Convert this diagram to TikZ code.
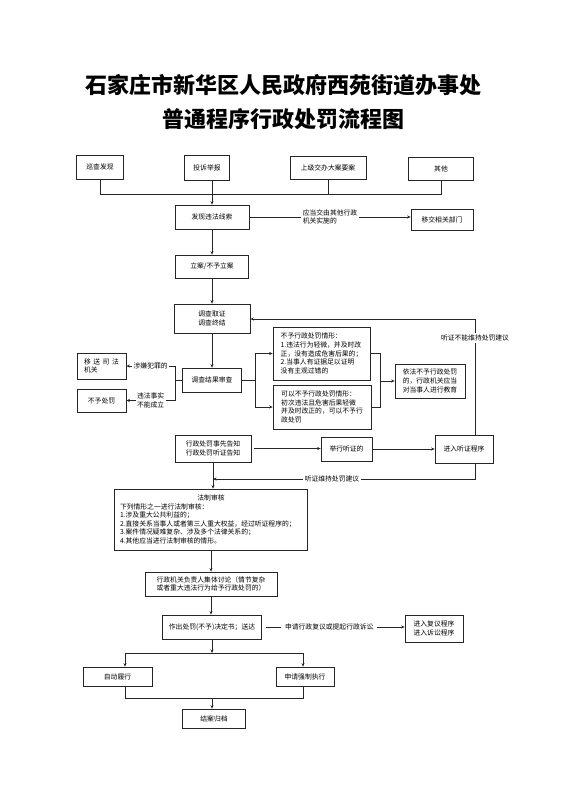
\documentclass[tikz,border=0pt]{standalone}
\usepackage{fontspec}
\newfontfamily\cjk{Noto Sans CJK SC}
\usetikzlibrary{arrows.meta}
\begin{document}
\begin{tikzpicture}[x=1pt,y=-1pt,
  box/.style={draw=black!85, line width=0.7pt, font=\cjk\fontsize{6.8}{8.6}\selectfont, align=center, inner sep=1pt},
  ln/.style={draw=black!85, line width=0.7pt},
  arr/.style={ln, -{Stealth[length=3.5pt,width=3pt]}},
  lbl/.style={font=\cjk\fontsize{6.8}{8.6}\selectfont, fill=white, inner sep=1.5pt, align=center},
  ttl/.style={font=\cjk\bfseries\fontsize{22}{26}\selectfont}]
\useasboundingbox[fill=white] (0,0) rectangle (566,800);

% title
\node[ttl] (t1) at (283,85) {石家庄市新华区人民政府西苑街道办事处};
\node[ttl] (t2) at (283,119) {普通程序行政处罚流程图};

% nodes
\node[box, minimum width=47, minimum height=24] (b1) at (100,167) {巡查发现};
\node[box, minimum width=45, minimum height=25] (b2) at (207,167.5) {投诉举报};
\node[box, minimum width=76, minimum height=23] (b3) at (328,167.5) {上级交办大案要案};
\node[box, minimum width=65, minimum height=23] (b4) at (441,168.5) {其他};
\node[box, minimum width=74, minimum height=24] (c1) at (212,217) {发现违法线索};
\node[box, minimum width=62, minimum height=21] (yj) at (442,220) {移交相关部门};
\node[box, minimum width=73, minimum height=23] (la) at (212,266.5) {立案/不予立案};
\node[box, minimum width=76, minimum height=29] (dc) at (212,318.5) {调查取证\\调查终结};
\node[box, minimum width=59, minimum height=24] (jg) at (212,380) {调查结果审查};
\node[box, minimum width=49, minimum height=26, align=left] (sf) at (101.5,366) {移\hspace{2.5pt}送\hspace{2.5pt}司\hspace{2.5pt}法\\机关};
\node[box, minimum width=49, minimum height=23] (bc) at (101.5,400.5) {不予处罚};
\node[box, minimum width=97, minimum height=53, align=left] (A) at (321.5,353.5) {不予行政处罚情形：\\1.违法行为轻微，并及时改\\正，没有造成危害后果的；\\2.当事人有证据足以证明\\没有主观过错的};
\node[box, minimum width=98, minimum height=44, align=left] (B) at (322,407) {可以不予行政处罚情形：\\初次违法且危害后果轻微\\并及时改正的，可以不予行\\政处罚};
\node[box, minimum width=70, minimum height=34] (C) at (430,381) {依法不予行政处罚\\的，行政机关应当\\对当事人进行教育};
\node[box, minimum width=76, minimum height=27] (gz) at (213,448.5) {行政处罚事先告知\\行政处罚听证告知};
\node[box, minimum width=51, minimum height=24] (jx) at (346.5,449) {举行听证的};
\node[box, minimum width=58, minimum height=28] (jr) at (464,449) {进入听证程序};
\node[box, text width=182, inner xsep=5.5pt, minimum height=61, align=left] (fz) at (211,519.5) {\makebox[182pt]{法制审核}\\下列情形之一进行法制审核：\\1.涉及重大公共利益的；\\2.直接关系当事人或者第三人重大权益，经过听证程序的；\\3.案件情况疑难复杂、涉及多个法律关系的；\\4.其他应当进行法制审核的情形。};
\node[box, minimum width=132, minimum height=24] (tl) at (211,584) {行政机关负责人集体讨论（情节复杂\\或者重大违法行为给予行政处罚的）};
\node[box, minimum width=99, minimum height=24] (zc) at (212,627) {作出处罚(不予)决定书；送达};
\node[box, minimum width=58, minimum height=27] (fy) at (434,628.5) {进入复议程序\\进入诉讼程序};
\node[box, minimum width=69, minimum height=19] (zd) at (117.5,676.5) {自动履行};
\node[box, minimum width=58, minimum height=19] (qz) at (305,676.5) {申请强制执行};
\node[box, minimum width=63, minimum height=19] (ja) at (214,718.5) {结案归档};

% coordinates
\coordinate (h1) at (0,194);
\coordinate (lb) at (175,0);
\coordinate (rb) at (255,0);
\coordinate (rb2) at (380,0);
\coordinate (fb) at (475,319);
\coordinate (fb2) at (475,479);
\coordinate (h2) at (0,653);
\coordinate (h3) at (0,698);
\coordinate (xL) at (125,0);
\coordinate (xR) at (303,0);

% top collection
\draw[ln] (b1.south) -- (b1.south |- h1) -- (b4.south |- h1) -- (b4.south);
\draw[ln] (b3.south) -- (b3.south |- h1);
\draw[arr] (b2.south -| c1.north) -- (c1.north);
\draw[arr] (c1.east) -- node[lbl, align=left, pos=0.5]{应当交由其他行政\\机关实施的} (c1.east -| yj.west);
\draw[arr] (c1.south) -- (la.north);
\draw[arr] (la.south) -- (dc.north);
\draw[arr] (dc.south) -- (jg.north);

% left bracket
\draw[ln] (jg.west) -- (jg.west -| lb);
\draw[ln] (lb |- sf.east) -- (lb |- bc.east);
\draw[arr] (lb |- sf.east) -- node[lbl]{涉嫌犯罪的} (sf.east);
\draw[arr] (lb |- bc.east) -- node[lbl]{违法事实\\不能成立} (bc.east);

% right bracket
\draw[ln] (jg.east) -- (jg.east -| rb);
\draw[ln] (rb |- A.west) -- (rb |- B.west);
\draw[arr] (rb |- A.west) -- (A.west);
\draw[arr] (rb |- B.west) -- (B.west);
\draw[ln] (A.east) -- (A.east -| rb2) -- (rb2 |- B.east) -- (B.east);
\draw[arr] (rb2 |- C.west) -- (C.west);

% hearing
\draw[arr] (jr.north -| fb) -- node[lbl, pos=0.836]{听证不能维持处罚建议} (fb) -- (fb -| dc.east);
\draw[arr] ([xshift=3pt]gz.east) -- (gz.east -| jx.west);
\draw[arr] (jx.east) -- (jx.east -| jr.west);
\draw[arr] (jr.south -| fb2) -- (fb2) -- node[lbl, pos=0.546]{听证维持处罚建议} (fb2 -| gz.south);
\draw[arr] (gz.south) -- (gz.south |- fz.north);
\draw[arr] (fz.south) -- (fz.south |- tl.north);
\draw[arr] (tl.south) -- (tl.south |- zc.north);
\draw[arr] ([xshift=4pt]zc.east) -- node[lbl, inner xsep=4pt, pos=0.457]{申请行政复议或提起行政诉讼} (zc.east -| fy.west);

% bottom
\draw[arr] (zc.south) -- (zc.south |- h2);
\draw[ln] (xL |- h2) -- (xR |- h2);
\draw[arr] (xL |- h2) -- (xL |- zd.north);
\draw[arr] (xR |- h2) -- (xR |- qz.north);
\draw[ln] (xL |- zd.south) -- (xL |- h3) -- (xR |- h3) -- (xR |- qz.south);
\draw[arr] (zc.south |- h3) -- (zc.south |- ja.north);
\end{tikzpicture}
\end{document}
